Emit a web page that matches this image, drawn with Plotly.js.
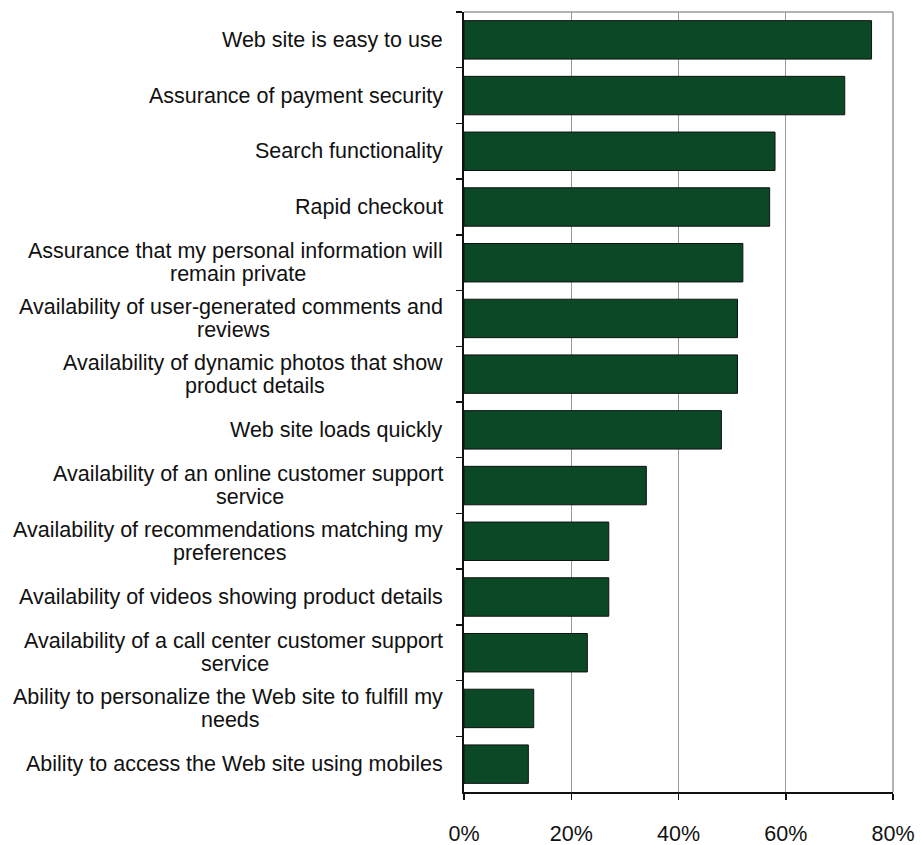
<!DOCTYPE html>
<html>
<head>
<meta charset="utf-8">
<script src="https://cdn.plot.ly/plotly-3.0.1.min.js"></script>
<style>html,body{margin:0;padding:0;background:#fff;}#chart{width:921px;height:845px;}</style>
</head>
<body>
<div id="chart"></div>
<script>
const categories = [
  "Web site is easy to use",
  "Assurance of payment security",
  "Search functionality",
  "Rapid checkout",
  "Assurance that my personal information will<br>remain private",
  "Availability of user-generated comments and<br>reviews",
  "Availability of dynamic photos that show<br>product details",
  "Web site loads quickly",
  "Availability of an online customer support<br>service",
  "Availability of recommendations matching my<br>preferences",
  "Availability of videos showing product details",
  "Availability of a call center customer support<br>service",
  "Ability to personalize the Web site to fulfill my<br>needs",
  "Ability to access the Web site using mobiles"
];
const values = [76, 71, 58, 57, 52, 51, 51, 48, 34, 27, 27, 23, 13, 12];
const xTickVals = [0, 20, 40, 60, 80];
const xTickText = ["0%", "20%", "40%", "60%", "80%"];

const FONT_FAMILY = "Liberation Sans, Arial, sans-serif";
const LABEL_SIZE = 21.5;
const labelFont = {family: FONT_FAMILY, size: LABEL_SIZE, color: "#111"};
const LABEL_GAP = 19;
const HALF_LINE = 11.5;

const ctx = document.createElement("canvas").getContext("2d");
ctx.font = LABEL_SIZE + "px 'Liberation Sans'";

const annotations = [];
categories.forEach(c => {
  const lines = c.split("<br>");
  if (lines.length === 1) {
    annotations.push({text: lines[0], x: 0, y: c, xref: "x", yref: "y",
      xanchor: "right", yanchor: "middle", xshift: -LABEL_GAP,
      showarrow: false, font: labelFont});
  } else {
    const w1 = ctx.measureText(lines[0]).width;
    annotations.push({text: lines[0], x: 0, y: c, xref: "x", yref: "y",
      xanchor: "right", yanchor: "middle", xshift: -LABEL_GAP, yshift: HALF_LINE,
      showarrow: false, font: labelFont});
    annotations.push({text: lines[1], x: 0, y: c, xref: "x", yref: "y",
      xanchor: "center", yanchor: "middle", xshift: -LABEL_GAP - w1 / 2, yshift: -HALF_LINE,
      showarrow: false, font: labelFont});
  }
});

const data = [{
  type: "bar", orientation: "h",
  x: values, y: categories,
  marker: {color: "#0a4826", line: {color: "#111", width: 1}},
  width: 0.69,
  hoverinfo: "x+y"
}];

const layout = {
  width: 921, height: 845,
  margin: {l: 464, r: 28, t: 12, b: 53},
  paper_bgcolor: "#fff", plot_bgcolor: "#fff",
  showlegend: false,
  xaxis: {
    range: [0, 80], tickvals: xTickVals, ticktext: xTickText,
    showgrid: true, gridcolor: "#999", gridwidth: 1,
    zeroline: false, showline: true, linecolor: "#111", linewidth: 2,
    ticks: "outside", ticklen: 6, tickcolor: "#111", tickwidth: 1.5,
    ticklabelstandoff: 15,
    tickfont: {family: FONT_FAMILY, size: 21.5, color: "#111"},
    fixedrange: true
  },
  yaxis: {
    type: "category", autorange: "reversed",
    tickson: "boundaries", ticks: "outside", ticklen: 6, tickcolor: "#111", tickwidth: 1.5,
    showticklabels: false, showgrid: false, zeroline: false,
    showline: true, linecolor: "#111", linewidth: 2,
    fixedrange: true
  },
  shapes: [
    {type: "line", xref: "paper", yref: "paper", x0: 0, x1: 1, y0: 1, y1: 1, line: {color: "#999", width: 1.5}},
    {type: "line", xref: "paper", yref: "paper", x0: 1, x1: 1, y0: 0, y1: 1, line: {color: "#999", width: 1.5}}
  ],
  annotations: annotations
};

Plotly.newPlot("chart", data, layout, {displayModeBar: false, staticPlot: true});
</script>
</body>
</html>
